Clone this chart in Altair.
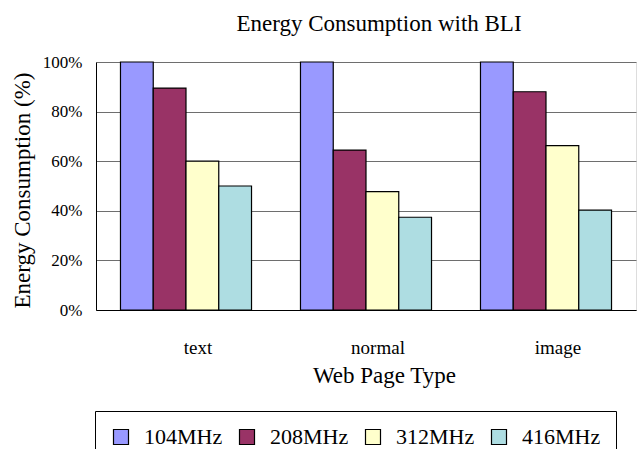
import altair as alt
import pandas as pd

page_types = ["text", "normal", "image"]
freqs = ["104MHz", "208MHz", "312MHz", "416MHz"]
v104 = [100, 100, 100]
v208 = [89.5, 64.5, 88]
v312 = [60, 47.7, 66.3]
v416 = [50, 37.4, 40.3]
colors = ["#9999FF", "#993366", "#FFFFCC", "#AEDDE2"]
y_ticks = [0, 20, 40, 60, 80, 100]

rows = []
for series, vals in zip(freqs, [v104, v208, v312, v416]):
    for cat, v in zip(page_types, vals):
        rows.append({"type": cat, "freq": series, "value": v})
df = pd.DataFrame(rows)

FONT = "Liberation Serif"

chart = (
    alt.Chart(df)
    .mark_bar(stroke="black", strokeWidth=1.2)
    .encode(
        x=alt.X(
            "type:N",
            sort=page_types,
            scale=alt.Scale(paddingInner=0.272, paddingOuter=0.136),
            axis=alt.Axis(
                title="Web Page Type",
                labelAngle=0,
                ticks=False,
                tickSize=0,
                labelPadding=43,
                labelBaseline="alphabetic",
                labelOffset=12,
                labelFontSize=19,
                labelFont=FONT,
                labelColor="black",
                titleFont=FONT,
                titleFontSize=23,
                titleFontWeight="normal",
                titleColor="black",
                titleX=288,
                titleY=72,
                titleBaseline="alphabetic",
                domainColor="black",
                grid=False,
            ),
        ),
        xOffset=alt.XOffset("freq:N", sort=freqs, scale=alt.Scale(paddingInner=0, paddingOuter=0)),
        y=alt.Y(
            "value:Q",
            scale=alt.Scale(domain=[0, 100], nice=False),
            axis=alt.Axis(
                title="Energy Consumption (%)",
                values=y_ticks,
                labelExpr="datum.value + '%'",
                ticks=False,
                tickSize=0,
                labelPadding=14,
                labelFontSize=17,
                labelFont=FONT,
                labelColor="black",
                titleFont=FONT,
                titleFontSize=23,
                titleFontWeight="normal",
                titleColor="black",
                titleX=-74,
                titleY=128,
                titleBaseline="middle",
                titleAngle=-90,
                domainColor="black",
                grid=True,
                gridColor="#6e6e6e",
                gridWidth=1,
            ),
        ),
        fill=alt.Fill(
            "freq:N",
            sort=freqs,
            scale=alt.Scale(domain=freqs, range=colors),
            legend=alt.Legend(
                title=None,
                orient="none",
                legendX=-1,
                legendY=349,
                direction="horizontal",
                strokeColor="black",
                fillColor="white",
                padding=15,
                symbolType="square",
                symbolSize=225,
                symbolStrokeColor="black",
                symbolStrokeWidth=1.2,
                symbolOpacity=1,
                labelFont=FONT,
                labelFontSize=22,
                labelColor="black",
                labelOffset=12,
                columnPadding=13,
            ),
        ),
    )
    .properties(
        width=540,
        height=248,
        autosize=alt.AutoSizeParams(type="none"),
        padding={"left": 96, "top": 62, "right": 4, "bottom": 139},
        title=alt.TitleParams(
            "Energy Consumption with BLI",
            font=FONT,
            fontSize=23,
            fontWeight="normal",
            color="black",
            anchor="middle",
            frame="group",
            dx=13,
            dy=27,
            offset=26,
            baseline="alphabetic",
        ),
    )
    .configure_view(stroke="#808080", strokeWidth=1)
    .configure(background="white")
)

chart.save("out.html", embed_options={"renderer": "svg", "actions": False})
